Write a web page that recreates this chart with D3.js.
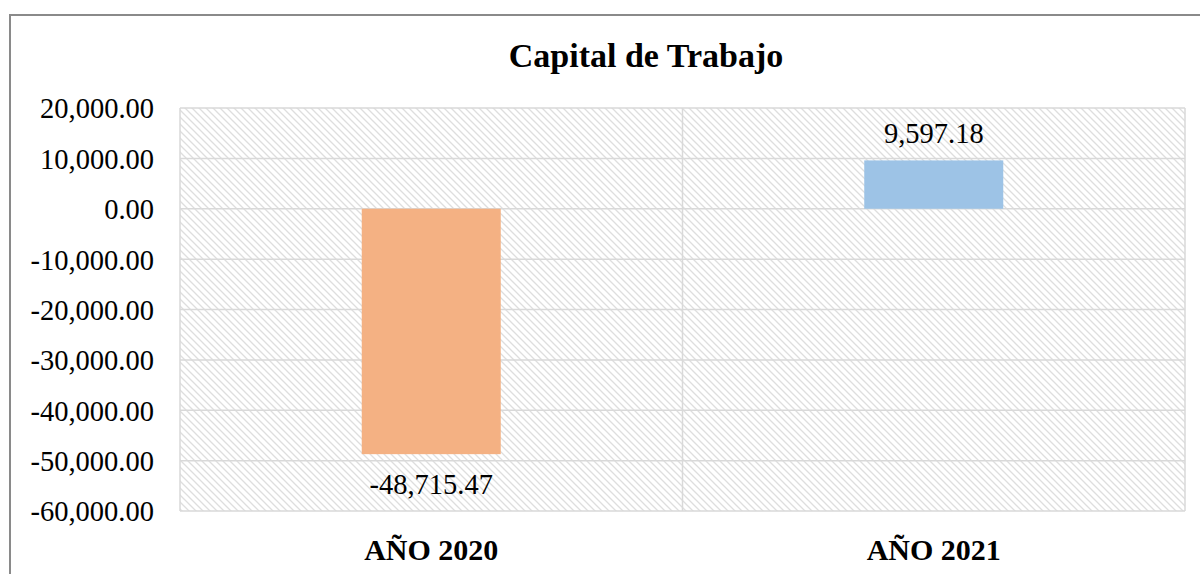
<!DOCTYPE html>
<html>
<head>
<meta charset="utf-8">
<script src="https://cdn.jsdelivr.net/npm/d3@7"></script>
<style>
  html, body { margin: 0; padding: 0; background: #fff; }
  svg { display: block; }
</style>
</head>
<body>
<svg id="chart" width="1200" height="574"></svg>
<script>
const title = "Capital de Trabajo";
const categories = ["AÑO 2020", "AÑO 2021"];
const values = [-48715.47, 9597.18];
const valueLabels = ["-48,715.47", "9,597.18"];
const barColors = ["#F4B183", "#9DC3E6"];
const tickValues = [20000, 10000, 0, -10000, -20000, -30000, -40000, -50000, -60000];
const tickLabels = ["20,000.00", "10,000.00", "0.00", "-10,000.00", "-20,000.00", "-30,000.00", "-40,000.00", "-50,000.00", "-60,000.00"];

const svg = d3.select("#chart");
const W = 1200, H = 574;
const plot = { left: 180, right: 1185, top: 108, bottom: 511 };
const serif = "'Liberation Serif', 'Times New Roman', serif";

// outer chart border (cropped on right/bottom)
svg.append("rect")
  .attr("x", 10).attr("y", 15).attr("width", W + 20).attr("height", H + 20)
  .attr("fill", "#fff").attr("stroke", "#8a8a8a").attr("stroke-width", 2);

// hatch pattern
const defs = svg.append("defs");
const pat = defs.append("pattern")
  .attr("id", "hatch").attr("patternUnits", "userSpaceOnUse")
  .attr("width", 7).attr("height", 7);
pat.append("rect").attr("width", 7).attr("height", 7).attr("fill", "#fff");
pat.append("path")
  .attr("d", "M-1,-1 L8,8 M-4,3 L1,8 M6,-1 L9,2")
  .attr("stroke", "#dedede").attr("stroke-width", 1.3);

const x = d3.scaleBand().domain(categories).range([plot.left, plot.right]).paddingInner(0).paddingOuter(0);
const y = d3.scaleLinear().domain([-60000, 20000]).range([plot.bottom, plot.top]);

// plot background
svg.append("rect")
  .attr("x", plot.left).attr("y", plot.top)
  .attr("width", plot.right - plot.left).attr("height", plot.bottom - plot.top)
  .attr("fill", "url(#hatch)");

// gridlines
svg.append("g").selectAll("line").data(tickValues).join("line")
  .attr("x1", plot.left).attr("x2", plot.right)
  .attr("y1", d => y(d)).attr("y2", d => y(d))
  .attr("stroke", "#d9d9d9").attr("stroke-width", 1.5);

// vertical category boundaries
const bounds = [plot.left, x(categories[1]), plot.right];
svg.append("g").selectAll("line").data(bounds).join("line")
  .attr("x1", d => d).attr("x2", d => d)
  .attr("y1", plot.top).attr("y2", plot.bottom)
  .attr("stroke", "#d9d9d9").attr("stroke-width", 1.5);

// y axis labels
const yAxis = d3.axisLeft(y).tickValues(tickValues)
  .tickFormat((d, i) => tickLabels[i]).tickSize(0).tickPadding(26);
const gy = svg.append("g").attr("transform", `translate(${plot.left},0)`).call(yAxis);
gy.select(".domain").remove();
gy.selectAll("text")
  .attr("font-family", serif).attr("font-size", 28.5).attr("fill", "#000")
  .attr("dy", "0.35em");

// bars
const barW = 139;
svg.append("g").selectAll("rect").data(values).join("rect")
  .attr("x", (d, i) => x(categories[i]) + x.bandwidth() / 2 - barW / 2)
  .attr("width", barW)
  .attr("y", d => y(Math.max(0, d)))
  .attr("height", d => Math.abs(y(d) - y(0)))
  .attr("fill", (d, i) => barColors[i]);

// value labels
svg.append("g").selectAll("text").data(values).join("text")
  .attr("x", (d, i) => x(categories[i]) + x.bandwidth() / 2)
  .attr("y", d => d < 0 ? y(d) + 40 : y(d) - 17)
  .attr("text-anchor", "middle")
  .attr("font-family", serif).attr("font-size", 28.5).attr("fill", "#000")
  .text((d, i) => valueLabels[i]);

// x axis category labels
const xAxis = d3.axisBottom(x).tickSize(0).tickPadding(0);
const gx = svg.append("g").attr("transform", `translate(0,${plot.bottom})`).call(xAxis);
gx.select(".domain").remove();
gx.selectAll("text")
  .attr("font-family", serif).attr("font-size", 30).attr("font-weight", "bold")
  .attr("fill", "#000").attr("dy", 0).attr("y", 49);

// title
svg.append("text")
  .attr("x", 646).attr("y", 67)
  .attr("text-anchor", "middle")
  .attr("font-family", serif).attr("font-size", 34).attr("font-weight", "bold")
  .attr("fill", "#000")
  .text(title);
</script>
</body>
</html>
